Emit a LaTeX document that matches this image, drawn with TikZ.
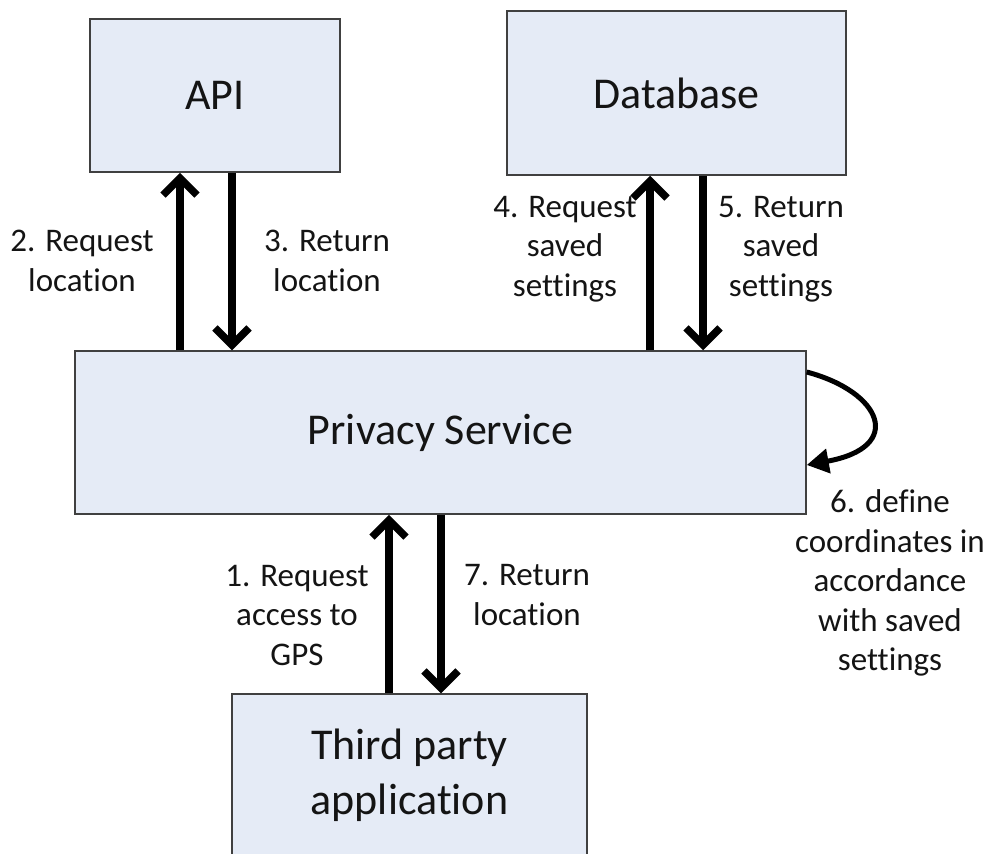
\documentclass[tikz,border=0pt]{standalone}
\usepackage{fontspec}
\setmainfont{Carlito}[Ligatures=NoCommon]
\usetikzlibrary{arrows.meta}
\definecolor{boxfill}{RGB}{229,235,246}
\definecolor{boxline}{RGB}{64,64,64}
\definecolor{inktext}{RGB}{20,20,20}
\tikzset{
  block/.style={draw=boxline, line width=1.5pt, fill=boxfill, inner sep=0pt,
    align=center, text=inktext, font=\fontsize{44}{55}\selectfont},
  steplabel/.style={align=center, text=inktext, inner sep=0pt,
    font=\fontsize{33}{39.5}\selectfont},
  flow/.style={line width=7.5pt,
    -{Straight Barb[length=17pt,width=34pt,line cap=butt,line join=miter]}},
  loopflow/.style={line width=5pt, -{Triangle[length=22pt,width=24pt]}}
}
\begin{document}
\begin{tikzpicture}[x=1pt,y=-1pt]
  \useasboundingbox (0,0) rectangle (989,854);
  \clip (0,0) rectangle (989,854);

  % components
  \node[block, minimum width=250pt, minimum height=153pt] (api) at (215,95.5) {API};
  \node[block, minimum width=339pt, minimum height=164pt] (db) at (676.5,93) {Database};
  \node[block, minimum width=731pt, minimum height=163pt] (priv) at (440.5,432.5) {Privacy Service};
  \node[block, minimum width=355pt, minimum height=163pt] (app) at (409.5,775.5) {Third party\\application};

  % service <-> API
  \draw[flow] ([xshift=-260.5pt]priv.north) -- ([xshift=-35pt]api.south);
  \draw[flow] ([xshift=17pt]api.south) -- ([xshift=-208.5pt]priv.north);
  % service <-> database
  \draw[flow] ([xshift=209.5pt]priv.north) -- ([xshift=-26.5pt]db.south);
  \draw[flow] ([xshift=26.5pt]db.south) -- ([xshift=262.5pt]priv.north);
  % application <-> service
  \draw[flow] ([xshift=-20.5pt]app.north) -- ([xshift=-51.5pt]priv.south);
  \draw[flow] ([xshift=0.5pt]priv.south) -- ([xshift=31.5pt]app.north);
  % internal step of the service
  \draw[loopflow] ([yshift=60.5pt]priv.east) .. controls (882,392) and (905,447) .. ([yshift=-32.5pt]priv.east);

  % step labels
  \node[steplabel] (l2) at (82,261) {2. Request\\location};
  \node[steplabel] (l3) at (327,261) {3. Return\\location};
  \node[steplabel] (l4) at (565,249) {4. Request\\saved\\settings};
  \node[steplabel] (l5) at (781,249) {5. Return\\saved\\settings};
  \node[steplabel] (l1) at (297,615) {1. Request\\access to\\GPS};
  \node[steplabel] (l7) at (527,595) {7. Return\\location};
  \node[steplabel] (l6) at (890,583) {6. define\\coordinates in\\accordance\\with saved\\settings};
\end{tikzpicture}
\end{document}
